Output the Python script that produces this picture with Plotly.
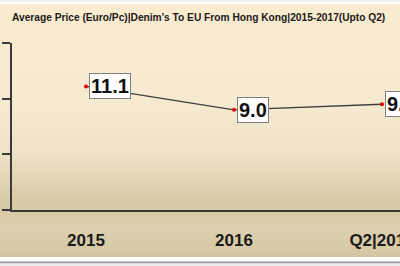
import base64
import plotly.graph_objects as go

categories = ["2015", "2016", "Q2|2017"]
avg_price = [11.1, 9.0, 9.5]
label_text = ["11.1", "9.0", "9.5"]
y_ticks = [0, 5, 10, 15]
title_text = "Average Price (Euro/Pc)|Denim's To EU From Hong Kong|2015-2017(Upto Q2)"

W, H = 400, 266
L, R, T, B = 12, 0, 43, 56
plot_h = H - T - B
plot_w = W - L - R


def py(p):
    return (H - B - p) / plot_h


def px(p):
    return (p - L) / plot_w


svg = (
    '<svg xmlns="http://www.w3.org/2000/svg" width="100" height="100" viewBox="0 0 100 100" preserveAspectRatio="none">'
    '<defs><linearGradient id="g" x1="0" y1="0" x2="0" y2="1">'
    '<stop offset="0" stop-color="#FBEBCF"/>'
    '<stop offset="0.38" stop-color="#F6EAD1"/>'
    '<stop offset="0.58" stop-color="#EEE3C9"/>'
    '<stop offset="0.79" stop-color="#D8C9A5"/>'
    '<stop offset="0.9" stop-color="#DCCFAE"/>'
    '<stop offset="1" stop-color="#D5C6A2"/>'
    '</linearGradient></defs>'
    '<rect x="0" y="0" width="100" height="100" fill="url(#g)"/></svg>'
)
src = "data:image/svg+xml;base64," + base64.b64encode(svg.encode()).decode()

fig = go.Figure()
fig.add_trace(go.Scatter(
    x=categories, y=avg_price, mode="lines+markers",
    line=dict(color="#404040", width=1.3),
    marker=dict(color="#E00000", size=4),
    hoverinfo="skip", cliponaxis=False,
))

for i, (v, t) in enumerate(zip(avg_price, label_text)):
    fig.add_annotation(
        x=i, y=v, text="<b>%s</b>" % t, showarrow=False,
        xanchor="left", yanchor="middle", xshift=3,
        bgcolor="white", bordercolor="#808080", borderwidth=1, borderpad=1,
        font=dict(family="Liberation Sans", size=20, color="#111111"),
    )

fig.add_annotation(
    xref="paper", yref="paper", x=px(10), y=py(17), xanchor="left", yanchor="middle",
    text="<b>%s</b>" % title_text, showarrow=False,
    font=dict(family="Liberation Sans", size=10.2, color="#1a1a1a"),
)

fig.add_layout_image(dict(
    source=src, xref="paper", yref="paper", x=px(0), y=py(4),
    sizex=px(W) - px(0), sizey=py(4) - py(257), sizing="stretch",
    xanchor="left", yanchor="top", layer="below",
))

fig.add_shape(type="line", xref="paper", yref="paper", x0=px(0), x1=px(W),
              y0=py(262.5), y1=py(262.5), line=dict(color="#9A9A9A", width=2))
fig.add_shape(type="rect", xref="paper", yref="paper", x0=px(0), x1=px(W),
              y0=py(263.5), y1=py(266), line=dict(width=0), fillcolor="#EDEDED")
fig.add_shape(type="line", xref="paper", yref="paper", x0=px(0), x1=px(W),
              y0=py(1), y1=py(1), line=dict(color="#E4E4E4", width=1))

fig.update_layout(
    width=W, height=H, margin=dict(l=L, r=R, t=T, b=B),
    paper_bgcolor="white", plot_bgcolor="rgba(0,0,0,0)",
    showlegend=False,
    xaxis=dict(
        type="category", range=[-0.5, -0.5 + plot_w / 148.0],
        showgrid=False, zeroline=False, showline=True, linecolor="#3a3a3a", linewidth=1.5,
        ticks="", ticklabelstandoff=14, automargin=False, ticklabeloverflow="allow",
        tickfont=dict(family="Liberation Sans", size=17, color="#1a1a1a"),
        tickvals=categories, ticktext=["<b>%s</b>" % c for c in categories],
    ),
    yaxis=dict(
        range=[0, 15], tickvals=y_ticks, showticklabels=False,
        showgrid=False, zeroline=False, showline=True, linecolor="#3a3a3a", linewidth=1.5,
        ticks="outside", ticklen=8, tickwidth=1.5, tickcolor="#3a3a3a", automargin=False,
    ),
)

fig.write_html("out.html")
